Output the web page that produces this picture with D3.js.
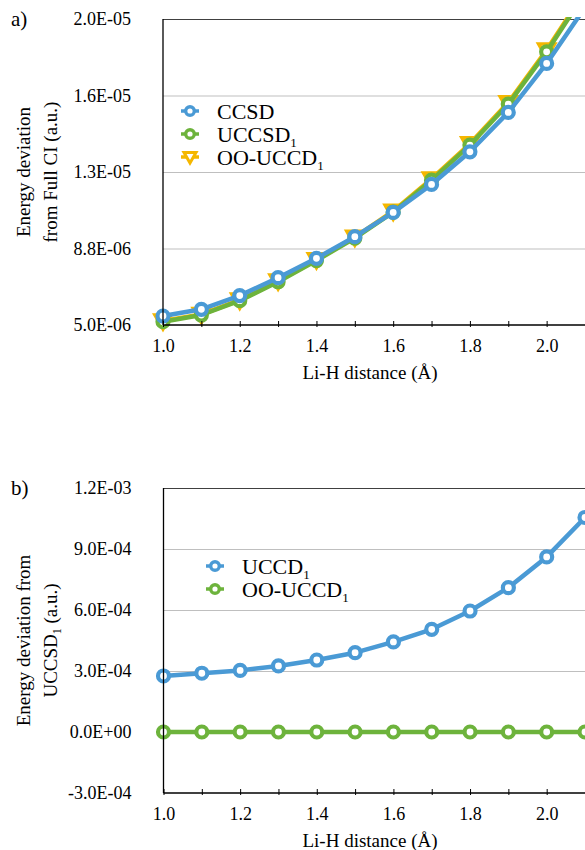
<!DOCTYPE html>
<html>
<head>
<meta charset="utf-8">
<script src="https://cdn.jsdelivr.net/npm/d3@7"></script>
<style>
body { margin: 0; background: #fff; }
text { font-family: "Liberation Serif", "Times New Roman", serif; fill: #000; }
</style>
</head>
<body>
<script>
var w = 585;
var h = 850;

// Li-H distance
var distances = [1.0, 1.1, 1.2, 1.3, 1.4, 1.5, 1.6, 1.7, 1.8, 1.9, 2.0, 2.1];
var xTicks = [1.0, 1.1, 1.2, 1.3, 1.4, 1.5, 1.6, 1.7, 1.8, 1.9, 2.0, 2.1];
var xLabels = ["1.0", "", "1.2", "", "1.4", "", "1.6", "", "1.8", "", "2.0", ""];

// panel a) deviation from full CI
var ccsdA   = [5.44e-6, 5.77e-6, 6.44e-6, 7.32e-6, 8.27e-6, 9.33e-6, 10.52e-6, 11.89e-6, 13.49e-6, 15.42e-6, 17.82e-6, 20.57e-6];
var uccsdA  = [5.16e-6, 5.49e-6, 6.19e-6, 7.12e-6, 8.16e-6, 9.26e-6, 10.53e-6, 12.10e-6, 13.82e-6, 15.83e-6, 18.39e-6, 21.27e-6];
var ooucdA  = [5.20e-6, 5.52e-6, 6.22e-6, 7.16e-6, 8.20e-6, 9.30e-6, 10.58e-6, 12.16e-6, 13.88e-6, 15.90e-6, 18.48e-6, 21.35e-6];
var yTicksA  = [5e-6, 8.75e-6, 1.25e-5, 1.625e-5, 2e-5];
var yLabelsA = ["5.0E-06", "8.8E-06", "1.3E-05", "1.6E-05", "2.0E-05"];

// panel b) deviation from UCCSD1
var uccdB   = [2.755e-4, 2.89e-4, 3.03e-4, 3.25e-4, 3.54e-4, 3.90e-4, 4.43e-4, 5.05e-4, 5.95e-4, 7.10e-4, 8.61e-4, 10.55e-4];
var ooucdB  = [0, 0, 0, 0, 0, 0, 0, 0, 0, 0, 0, 0];
var yTicksB  = [-3e-4, 0, 3e-4, 6e-4, 9e-4, 1.2e-3];
var yLabelsB = ["-3.0E-04", "0.0E+00", "3.0E-04", "6.0E-04", "9.0E-04", "1.2E-03"];

var blue = "#4a9ad5";
var green = "#6db33c";
var gold = "#f5b700";

var svg = d3.select("body")
            .append("svg")
            .attr("width", w)
            .attr("height", h);

function marker(g, shape, color, x, y, big) {
    if (shape == "tri") {
        var s = big ? 1 : 0.75;
        g.append("path")
         .attr("d", "M" + (-8*s) + "," + (-6*s) + "L" + (8*s) + "," + (-6*s) + "L0," + (8*s) + "Z")
         .attr("transform", "translate(" + x + "," + y + ")")
         .attr("fill", "#fff")
         .attr("stroke", color)
         .attr("stroke-width", big ? 3.5 : 3)
         .attr("stroke-linejoin", "miter");
    } else {
        g.append("circle")
         .attr("cx", x).attr("cy", y)
         .attr("r", big ? 5.5 : 4.3)
         .attr("fill", "#fff")
         .attr("stroke", color)
         .attr("stroke-width", big ? 4.2 : 3.4);
    }
}

function drawPanel(p) {
    var xScale = d3.scaleLinear().domain([1.0, 2.1]).range([p.left, p.right]);
    var yScale = d3.scaleLinear().domain(p.yDomain).range([p.bottom, p.top]);
    var g = svg.append("g");

    // gridlines
    g.append("g")
     .attr("transform", "translate(" + p.left + ",0)")
     .call(d3.axisLeft(yScale).tickValues(p.yTicks.slice(1)).tickSize(-(p.right - p.left + 10)).tickFormat(""))
     .call(function(s) {
         s.select(".domain").remove();
         s.selectAll("line").attr("stroke", function(d, i) { return i == p.yTicks.length - 2 ? "#404040" : "#bfbfbf"; }).attr("stroke-width", 1);
     });

    // y labels
    g.append("g")
     .attr("transform", "translate(" + p.left + ",0)")
     .call(d3.axisLeft(yScale).tickValues(p.yTicks).tickSize(0).tickPadding(32)
           .tickFormat(function(d, i) { return p.yLabels[i]; }))
     .call(function(s) {
         s.select(".domain").remove();
         s.selectAll("text").style("font-size", "18px").style("font-family", "Liberation Serif");
     });

    // series
    var clipId = "clip" + p.id;
    svg.append("clipPath").attr("id", clipId)
       .append("rect").attr("x", p.left - 20).attr("y", p.top - 2)
       .attr("width", p.right - p.left + 40).attr("height", p.bottom - p.top + 30);
    var plot = g.append("g").attr("clip-path", "url(#" + clipId + ")");
    var line = d3.line()
                 .x(function(d, i) { return xScale(distances[i]); })
                 .y(function(d) { return yScale(d); });
    p.series.forEach(function(s) {
        plot.append("path")
            .attr("d", line(s.values))
            .attr("fill", "none")
            .attr("stroke", s.color)
            .attr("stroke-width", 4.5)
            .attr("stroke-linejoin", "round");
        s.values.forEach(function(v, i) {
            marker(plot, s.shape, s.color, xScale(distances[i]), yScale(v), true);
        });
    });

    // axes lines
    g.append("line").attr("x1", p.left).attr("x2", p.left).attr("y1", p.top).attr("y2", p.bottom)
     .attr("stroke", "#000").attr("stroke-width", 1.3);
    g.append("g")
     .attr("transform", "translate(0," + p.bottom + ")")
     .call(d3.axisBottom(xScale).tickValues(xTicks).tickSizeInner(-5).tickSizeOuter(0)
           .tickFormat(function(d, i) { return xLabels[i]; }))
     .call(function(s) {
         s.select(".domain").attr("stroke-width", 1.3).attr("d", "M" + p.left + ",0H" + (p.right + 10));
         s.selectAll("line").attr("y2", -4).attr("y1", 2);
         s.selectAll("text").attr("y", 14).style("font-size", "18px").style("font-family", "Liberation Serif");
     });

    // x title
    g.append("text")
     .attr("x", 370).attr("y", p.bottom + 54)
     .attr("text-anchor", "middle")
     .style("font-size", "19px")
     .text("Li-H distance (Å)");

    // y title
    var cy = (p.top + p.bottom) / 2;
    p.yTitle.forEach(function(lineParts, k) {
        var t = g.append("text")
                 .attr("transform", "translate(" + (29.5 + k * 27.5) + "," + cy + ") rotate(-90)")
                 .attr("text-anchor", "middle")
                 .style("font-size", "19px");
        t.append("tspan").text(lineParts[0]);
        if (lineParts[1]) {
            t.append("tspan").attr("dy", 4).style("font-size", "12px").text(lineParts[1]);
            t.append("tspan").attr("dy", -4).text(lineParts[2]);
        }
    });

    // panel letter
    g.append("text").attr("x", 11).attr("y", p.top + 7).style("font-size", "21px").text(p.letter);

    // legend
    p.series.slice().reverse().forEach(function(s, i) {
        var ly = p.legendY + i * 23;
        g.append("line").attr("x1", p.legendX - 9).attr("x2", p.legendX + 9)
         .attr("y1", ly).attr("y2", ly).attr("stroke", s.color).attr("stroke-width", 3.5);
        marker(g, s.shape, s.color, p.legendX, ly, false);
        var t = g.append("text").attr("x", p.legendX + 27).attr("y", ly + 7.5).style("font-size", "22px");
        t.append("tspan").text(s.name[0]);
        if (s.name[1]) t.append("tspan").attr("dy", 5).style("font-size", "13px").text(s.name[1]);
    });
}

drawPanel({
    id: "a", letter: "a)",
    left: 163, right: 585, top: 19, bottom: 325,
    yDomain: [5e-6, 2e-5], yTicks: yTicksA, yLabels: yLabelsA,
    yTitle: [["Energy deviation"], ["from Full CI (a.u.)"]],
    legendX: 190, legendY: 111,
    series: [
        {name: ["OO-UCCD", "1"], values: ooucdA, color: gold, shape: "tri"},
        {name: ["UCCSD", "1"], values: uccsdA, color: green, shape: "circle"},
        {name: ["CCSD"], values: ccsdA, color: blue, shape: "circle"}
    ]
});

drawPanel({
    id: "b", letter: "b)",
    left: 163.5, right: 585, top: 488, bottom: 793,
    yDomain: [-3e-4, 1.2e-3], yTicks: yTicksB, yLabels: yLabelsB,
    yTitle: [["Energy deviation from"], ["UCCSD", "1", " (a.u.)"]],
    legendX: 215, legendY: 566,
    series: [
        {name: ["OO-UCCD", "1"], values: ooucdB, color: green, shape: "circle"},
        {name: ["UCCD", "1"], values: uccdB, color: blue, shape: "circle"}
    ]
});
</script>
</body>
</html>
